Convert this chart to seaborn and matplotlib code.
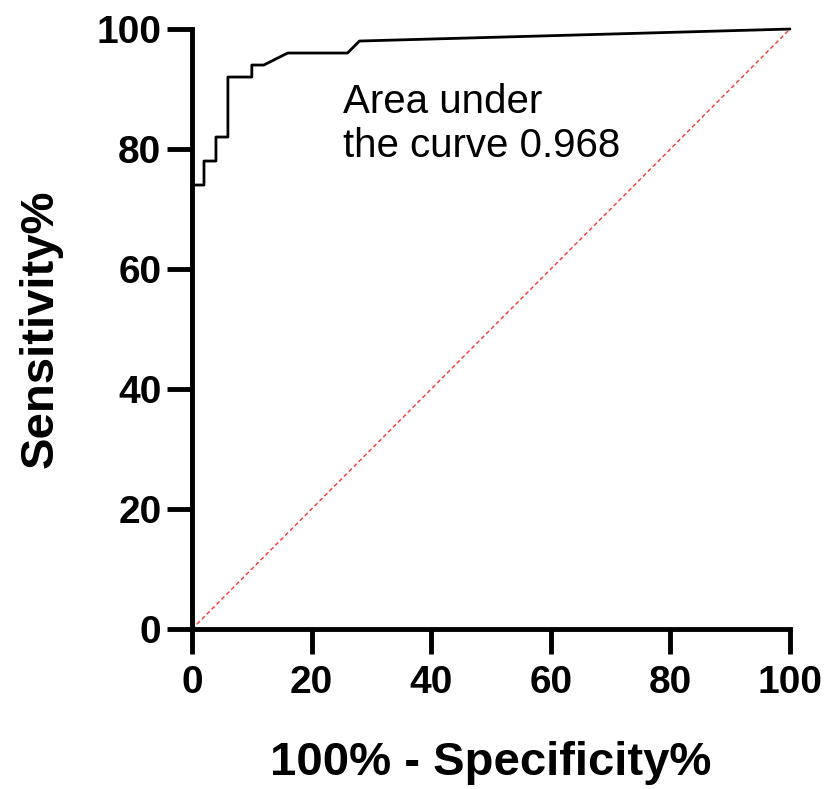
import pandas as pd
import seaborn as sns
import matplotlib.pyplot as plt

# ----- Data -----
fpr = [0, 0, 2, 2, 4, 4, 6, 6, 10, 10, 12, 16, 26, 28, 100]
tpr = [0, 74, 74, 78, 78, 82, 82, 92, 92, 94, 94, 96, 96, 98, 100]
ref_x = [0, 100]
ref_y = [0, 100]
ticks = [0, 20, 40, 60, 80, 100]
auc_text = 'Area under\nthe curve 0.968'

roc = pd.DataFrame({'fpr': fpr, 'tpr': tpr})
ref = pd.DataFrame({'x': ref_x, 'y': ref_y})

# ----- Style -----
sns.set_style('ticks')
plt.rcParams['font.family'] = ['Liberation Sans', 'DejaVu Sans']
plt.rcParams.update({'text.color': 'black', 'axes.labelcolor': 'black',
                     'xtick.color': 'black', 'ytick.color': 'black'})

fig = plt.figure(figsize=(8.32, 7.89), dpi=100)
ax = fig.add_axes([0.2308, 0.2028, 0.7187, 0.7604])

sns.lineplot(data=ref, x='x', y='y', ax=ax, color='#ff3333', lw=1.0,
             linestyle=(0, (3, 2)), sort=False, estimator=None)
sns.lineplot(data=roc, x='fpr', y='tpr', ax=ax, color='black', lw=2.0,
             sort=False, estimator=None)

ax.set_xlim(0, 100)
ax.set_ylim(0, 100)
ax.set_xticks(ticks)
ax.set_yticks(ticks)
ax.set_xticklabels(ticks, fontsize=28, fontweight='bold')
ax.set_yticklabels(ticks, fontsize=28, fontweight='bold')
ax.tick_params(axis='both', width=3.5, length=18, color='black')
ax.tick_params(axis='x', pad=8)
ax.tick_params(axis='y', pad=4)
sns.despine(ax=ax)
for side in ['left', 'bottom']:
    ax.spines[side].set_linewidth(3.5)
    ax.spines[side].set_color('black')

ax.set_xlabel('100% - Specificity%', fontsize=34, fontweight='bold', labelpad=29)
ax.set_ylabel('Sensitivity%', fontsize=34, fontweight='bold', labelpad=24)

ax.text(25.2, 91.0, auc_text, fontsize=29, va='top', ha='left', linespacing=1.2)

for ln in ax.lines:
    ln.set_clip_on(False)

fig.savefig('out.png', dpi=100)
